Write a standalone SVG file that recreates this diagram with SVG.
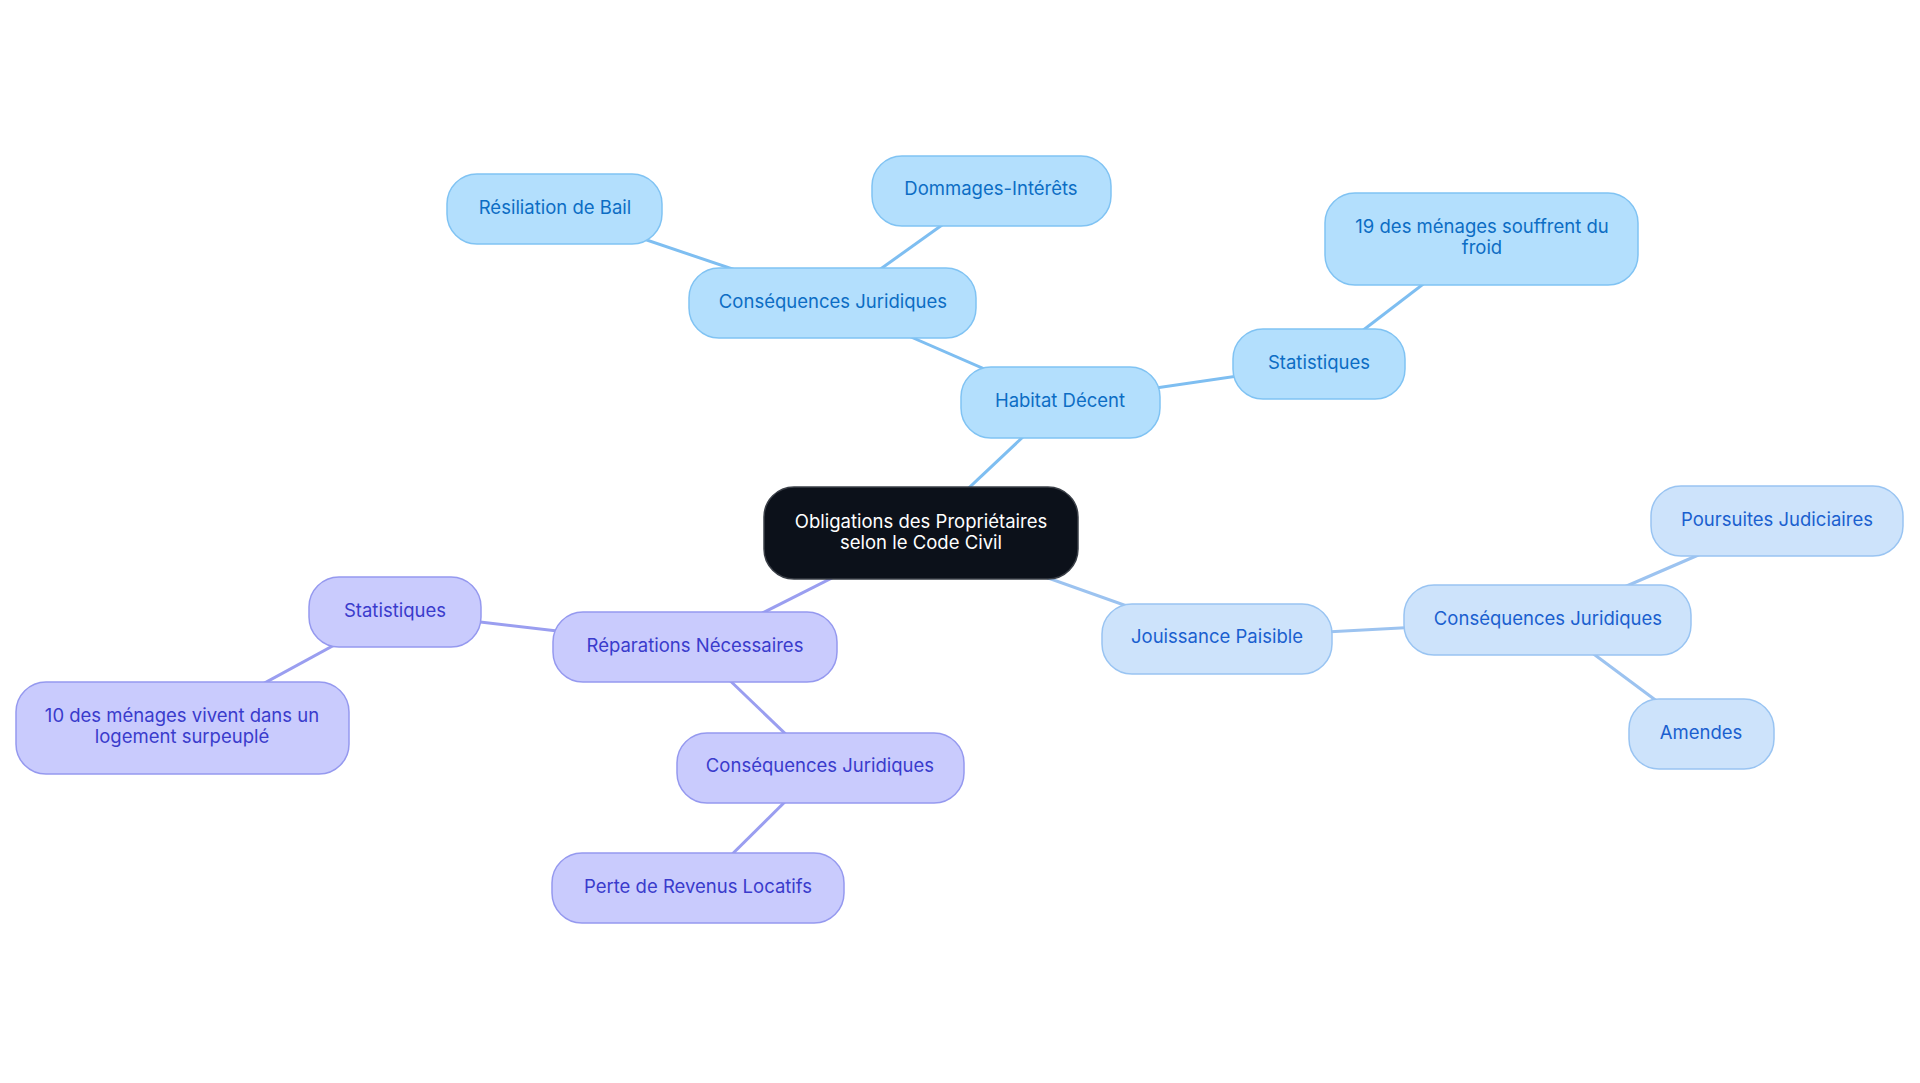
<svg xmlns="http://www.w3.org/2000/svg" width="1920" height="1083" viewBox="0 0 1920 1083">
<style>
  text { font-family: Inter, "Noto Sans", "Liberation Sans", sans-serif; font-size: 18.5px; text-anchor: middle; dominant-baseline: central; }
  .blue rect { fill: #b3dffd; stroke: #80c3f3; stroke-width: 1.5; }
  .blue text { fill: #0c6dc4; }
  .lblue rect { fill: #cde3fb; stroke: #99c4f2; stroke-width: 1.5; }
  .lblue text { fill: #1a5fcf; }
  .purple rect { fill: #c9cbfd; stroke: #9599ef; stroke-width: 1.5; }
  .purple text { fill: #3a3bcc; }
  .root rect { fill: #0c111a; stroke: #3a3f47; stroke-width: 1.5; }
  .root text { fill: #ffffff; }
  .e { fill: none; stroke-width: 3; }
  .eb { stroke: #7ebef1; }
  .el { stroke: #9cc3f0; }
  .ep { stroke: #9a9ef0; }
</style>
<rect width="1920" height="1083" fill="#ffffff"/>
<g id="connectors">
  <line class="e eb" x1="921" y1="533" x2="1060" y2="402"/>
  <line class="e eb" x1="1060" y1="402" x2="833" y2="303"/>
  <line class="e eb" x1="833" y1="303" x2="555" y2="209"/>
  <line class="e eb" x1="833" y1="303" x2="991" y2="190"/>
  <line class="e eb" x1="1060" y1="402" x2="1319" y2="364"/>
  <line class="e eb" x1="1319" y1="364" x2="1482" y2="239"/>
  <line class="e el" x1="921" y1="533" x2="1217" y2="638"/>
  <line class="e el" x1="1217" y1="638" x2="1548" y2="620"/>
  <line class="e el" x1="1548" y1="620" x2="1777" y2="521"/>
  <line class="e el" x1="1548" y1="620" x2="1701" y2="734"/>
  <line class="e ep" x1="921" y1="533" x2="695" y2="647"/>
  <line class="e ep" x1="695" y1="647" x2="395" y2="612"/>
  <line class="e ep" x1="395" y1="612" x2="182" y2="728"/>
  <line class="e ep" x1="695" y1="647" x2="820" y2="767"/>
  <line class="e ep" x1="820" y1="767" x2="698" y2="888"/>
</g>
<g id="n-root" class="root">
  <rect x="764" y="487" width="314" height="92" rx="30"/>
  <text x="921" y="521">Obligations des Propriétaires</text>
  <text x="921" y="542">selon le Code Civil</text>
</g>
<g id="n-habitat" class="blue">
  <rect x="961" y="367" width="199" height="71" rx="30"/>
  <text x="1060" y="400">Habitat Décent</text>
</g>
<g id="n-cj-top" class="blue">
  <rect x="689" y="268" width="287" height="70" rx="30"/>
  <text x="833" y="301">Conséquences Juridiques</text>
</g>
<g id="n-resiliation" class="blue">
  <rect x="447" y="174" width="215" height="70" rx="30"/>
  <text x="555" y="207">Résiliation de Bail</text>
</g>
<g id="n-dommages" class="blue">
  <rect x="872" y="156" width="239" height="70" rx="30"/>
  <text x="991" y="188">Dommages-Intérêts</text>
</g>
<g id="n-stat-top" class="blue">
  <rect x="1233" y="329" width="172" height="70" rx="30"/>
  <text x="1319" y="362">Statistiques</text>
</g>
<g id="n-19" class="blue">
  <rect x="1325" y="193" width="313" height="92" rx="30"/>
  <text x="1482" y="226">19 des ménages souffrent du</text>
  <text x="1482" y="247">froid</text>
</g>
<g id="n-jouissance" class="lblue">
  <rect x="1102" y="604" width="230" height="70" rx="30"/>
  <text x="1217" y="636">Jouissance Paisible</text>
</g>
<g id="n-cj-right" class="lblue">
  <rect x="1404" y="585" width="287" height="70" rx="30"/>
  <text x="1548" y="618">Conséquences Juridiques</text>
</g>
<g id="n-poursuites" class="lblue">
  <rect x="1651" y="486" width="252" height="70" rx="30"/>
  <text x="1777" y="519">Poursuites Judiciaires</text>
</g>
<g id="n-amendes" class="lblue">
  <rect x="1629" y="699" width="145" height="70" rx="30"/>
  <text x="1701" y="732">Amendes</text>
</g>
<g id="n-reparations" class="purple">
  <rect x="553" y="612" width="284" height="70" rx="30"/>
  <text x="695" y="645">Réparations Nécessaires</text>
</g>
<g id="n-stat-left" class="purple">
  <rect x="309" y="577" width="172" height="70" rx="30"/>
  <text x="395" y="610">Statistiques</text>
</g>
<g id="n-10" class="purple">
  <rect x="16" y="682" width="333" height="92" rx="30"/>
  <text x="182" y="715">10 des ménages vivent dans un</text>
  <text x="182" y="736">logement surpeuplé</text>
</g>
<g id="n-cj-bottom" class="purple">
  <rect x="677" y="733" width="287" height="70" rx="30"/>
  <text x="820" y="765">Conséquences Juridiques</text>
</g>
<g id="n-perte" class="purple">
  <rect x="552" y="853" width="292" height="70" rx="30"/>
  <text x="698" y="886">Perte de Revenus Locatifs</text>
</g>
</svg>
